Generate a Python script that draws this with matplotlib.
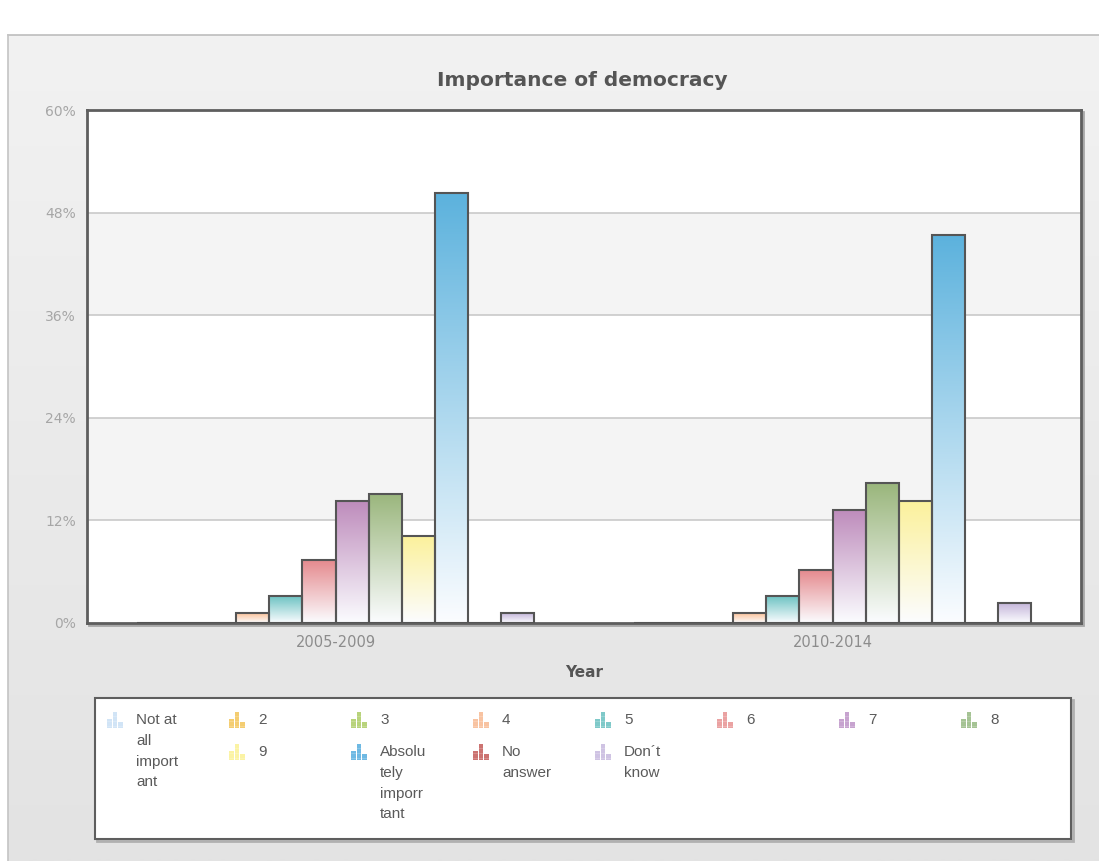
import numpy as np
import matplotlib
matplotlib.use("Agg")
import matplotlib.pyplot as plt
from matplotlib.patches import Rectangle
from matplotlib.colors import to_rgb

# ---- data -------------------------------------------------------------
years = ["2005-2009", "2010-2014"]

series_names = ["Not at all important", "2", "3", "4", "5", "6", "7", "8", "9",
                "Absolutely imporrtant", "No answer", "Don\u00b4t know"]

not_at_all = [0.0, 0.0]
val_2 = [0.0, 0.0]
val_3 = [0.0, 0.0]
val_4 = [1.1, 1.1]
val_5 = [3.1, 3.1]
val_6 = [7.3, 6.2]
val_7 = [14.2, 13.2]
val_8 = [15.1, 16.3]
val_9 = [10.1, 14.2]
absolutely = [50.3, 45.4]
no_answer = [0.0, 0.0]
dont_know = [1.1, 2.3]

series_values = [not_at_all, val_2, val_3, val_4, val_5, val_6, val_7, val_8,
                 val_9, absolutely, no_answer, dont_know]

y_ticks = [0, 12, 24, 36, 48, 60]

# ---- styling ----------------------------------------------------------
bar_colors = ["#c6def4", "#f2c14e", "#a6c85a", "#fbc39b", "#6ec3c3", "#e58a8e",
              "#be8cbc", "#9ab67c", "#fbf19c", "#5cb2dd", "#c0504d", "#c5b6da"]
icon_colors = ["#c6def4", "#f2c14e", "#a6c85a", "#f7b48a", "#5fbcbc", "#e58b8b",
               "#b98cc4", "#8fb57a", "#fbf08e", "#4aa8dc", "#c0504d", "#c3b4dc"]

# legend labels as wrapped in the legend box
legend_labels = ["Not at\nall\nimport\nant", "2", "3", "4", "5", "6", "7", "8",
                 "9", "Absolu\ntely\nimporr\ntant", "No\nanswer", "Don\u00b4t\nknow"]
# (column, row) slot of each legend entry
legend_slots = [(0, 0), (1, 0), (2, 0), (3, 0), (4, 0), (5, 0), (6, 0), (7, 0),
                (1, 1), (2, 1), (3, 1), (4, 1)]

W, H = 1099, 861
fig = plt.figure(figsize=(W / 100, H / 100), dpi=100)

# ---- background panel (pixel coordinates) ----------------------------
bg = fig.add_axes([0, 0, 1, 1], zorder=-10)
bg.set_xlim(0, W)
bg.set_ylim(H, 0)
bg.axis("off")
grad = np.linspace(0, 1, 256)[:, None]
top_c = np.array(to_rgb("#f2f2f2"))
bot_c = np.array(to_rgb("#e3e3e3"))
panel = top_c[None, None, :] * (1 - grad[..., None]) + bot_c[None, None, :] * grad[..., None]
bg.imshow(panel, extent=(8, W, H, 35), aspect="auto", interpolation="bilinear", zorder=0)
bg.plot([8, W], [35, 35], color="#bdbdbd", lw=1.2, zorder=1)
bg.plot([8, 8], [35, H], color="#c4c4c4", lw=1.2, zorder=1)

# shadow behind the plot frame
bg.add_patch(Rectangle((89, 112), 994, 513, facecolor="none",
                       edgecolor="#a8a8a8", lw=2, zorder=2))

# ---- main axes --------------------------------------------------------
ax_l, ax_r, ax_t, ax_b = 87, 1081, 110, 622.7
ax = fig.add_axes([ax_l / W, 1 - ax_b / H, (ax_r - ax_l) / W, (ax_b - ax_t) / H])
ax.set_facecolor("white")

for lo, hi in [(12, 24), (36, 48)]:
    ax.axhspan(lo, hi, color="#f4f4f4", zorder=0, lw=0)
for yv in y_ticks[1:-1]:
    ax.axhline(yv, color="#c9c9c9", lw=1.2, zorder=1)

n = len(series_values)
group_w = 0.8
bw = group_w / n
x_base = np.arange(len(years))

for i, (vals, col) in enumerate(zip(series_values, bar_colors)):
    xs = x_base + (i - (n - 1) / 2) * bw
    bars = ax.bar(xs, vals, bw, facecolor="none", edgecolor="#555555",
                  lw=1.5, zorder=4)
    c = np.array(to_rgb(col))
    white = np.array([0.985, 0.99, 1.0])
    t = np.linspace(0, 1, 200)[:, None]
    g = c[None, :] * (1 - t) + white[None, :] * t
    g = g[:, None, :]
    for b in bars:
        h = b.get_height()
        if h <= 0:
            continue
        x0 = b.get_x()
        ax.imshow(g, extent=(x0, x0 + b.get_width(), 0, h), aspect="auto",
                  interpolation="bilinear", zorder=3)

ax.set_xlim(-0.5, 1.5)
ax.set_ylim(0, 60)
ax.set_aspect("auto")
ax.set_yticks(y_ticks)
ax.set_yticklabels([f"{v}%" for v in y_ticks])
ax.set_xticks(x_base)
ax.set_xticklabels(years)
ax.tick_params(axis="y", length=0, pad=8, labelsize=10, labelcolor="#a6a6a6")
ax.tick_params(axis="x", length=0, pad=9, labelsize=10.5, labelcolor="#8c8c8c")
for s in ax.spines.values():
    s.set_color("#5e5e5e")
    s.set_linewidth(2)
ax.set_xlabel("Year", fontsize=11, fontweight="bold", color="#555555", labelpad=11)

fig.text(582 / W, 1 - 80 / H, "Importance of democracy", ha="center", va="center",
         fontsize=14.5, fontweight="bold", color="#555555", family="DejaVu Sans")

# ---- legend box -------------------------------------------------------
bg.add_patch(Rectangle((97, 700), 976, 141, facecolor="none",
                       edgecolor="#b0b0b0", lw=2, zorder=2))
bg.add_patch(Rectangle((95, 698), 976, 141, facecolor="white",
                       edgecolor="#5e5e5e", lw=1.5, zorder=3))

col_x0, col_dx = 107, 122
row_y = [712, 744]
for lbl, (c_i, r_i), col in zip(legend_labels, legend_slots, icon_colors):
    ix = col_x0 + c_i * col_dx
    iy = row_y[r_i]
    # small bar-chart glyph
    for dx, hh in [(0, 9), (5.5, 16), (11, 6)]:
        bg.add_patch(Rectangle((ix + dx, iy + 16 - hh), 4.5, hh, facecolor=col,
                               edgecolor="none", alpha=0.8, zorder=4))
    for yy in range(iy + 4, iy + 16, 5):
        bg.plot([ix, ix + 16], [yy, yy], color="white", lw=0.4, alpha=0.35, zorder=5)
    bg.text(ix + 29, iy + 1, lbl, ha="left", va="top", fontsize=11,
            color="#5a5a5a", family="Liberation Sans", linespacing=1.62, zorder=6)

fig.savefig("out.png", dpi=100)
